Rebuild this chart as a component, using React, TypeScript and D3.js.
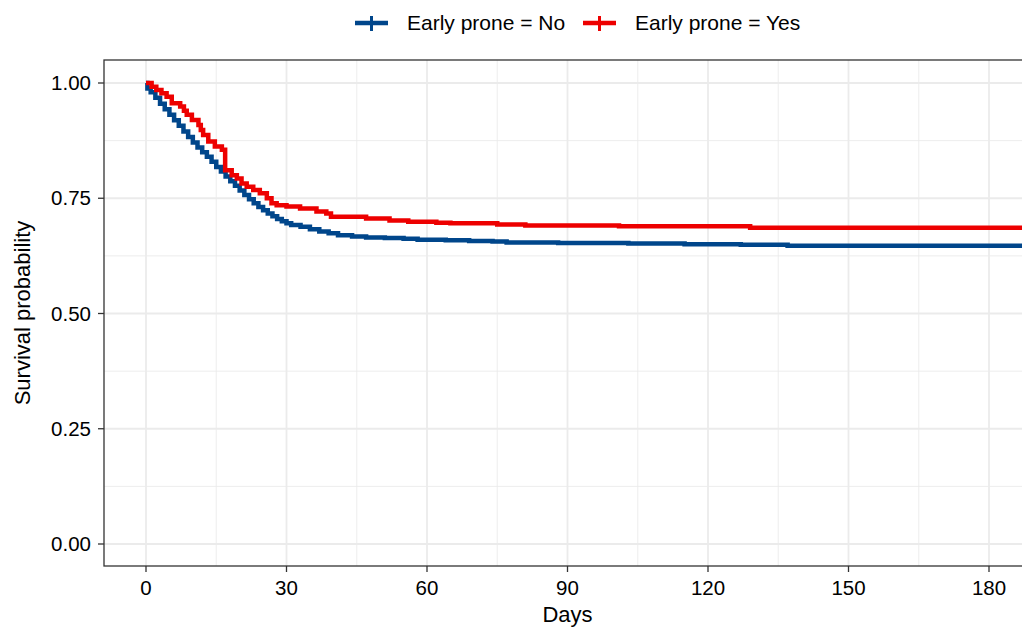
import React, { useEffect, useRef } from 'react';
import * as d3 from 'd3';

// Kaplan-Meier estimates (time in days, survival)
const noTimes = [0, 0.3, 1, 2, 3, 4, 5, 6, 7, 8, 9, 10, 11, 12, 13, 14, 15, 16, 17, 18, 19, 20,
  21, 22, 23, 24, 25, 26, 27, 28, 29, 30, 31, 33, 35, 37, 39, 41, 44, 47, 51, 55, 58, 64, 69, 74,
  77, 88, 103, 115, 127, 137, 190];
const noSurv = [1.0, 0.988, 0.98, 0.968, 0.955, 0.943, 0.931, 0.919, 0.907, 0.895, 0.883, 0.871,
  0.86, 0.85, 0.84, 0.829, 0.818, 0.808, 0.797, 0.787, 0.777, 0.767, 0.757, 0.748, 0.739, 0.731,
  0.724, 0.717, 0.711, 0.705, 0.7, 0.696, 0.692, 0.688, 0.683, 0.678, 0.674, 0.67, 0.667, 0.665,
  0.664, 0.662, 0.66, 0.659, 0.657, 0.656, 0.654, 0.653, 0.652, 0.65, 0.649, 0.647, 0.647];

const yesTimes = [0, 1.2, 2.2, 3.3, 4.4, 5.5, 7.3, 8.1, 8.7, 9.8, 11.2, 11.7, 12.2, 13.3, 14.7,
  16.2, 16.9, 18.3, 19.4, 20.4, 21.5, 22.9, 24.3, 25.8, 26.8, 27.9, 30, 32.9, 36.4, 38.5, 39.5,
  47, 52, 56, 62, 65, 75, 81, 101, 129, 190];
const yesSurv = [1.0, 0.992, 0.985, 0.978, 0.97, 0.956, 0.949, 0.94, 0.931, 0.92, 0.909, 0.898,
  0.887, 0.873, 0.862, 0.855, 0.811, 0.8, 0.793, 0.782, 0.775, 0.768, 0.761, 0.75, 0.739, 0.735,
  0.732, 0.728, 0.721, 0.717, 0.71, 0.706, 0.702, 0.699, 0.697, 0.696, 0.693, 0.691, 0.689,
  0.686, 0.686];

const groups = ['Early prone = No', 'Early prone = Yes'];
const colors = ['#00468B', '#ED0000'];

const xTicks = [0, 30, 60, 90, 120, 150, 180];
const xMinor = [15, 45, 75, 105, 135, 165];
const yTicks = [0, 0.25, 0.5, 0.75, 1];
const yMinor = [0.125, 0.375, 0.625, 0.875];

const FONT = '"Liberation Sans", Arial, Helvetica, sans-serif';

export default function App() {
  const ref = useRef<SVGSVGElement>(null);

  useEffect(() => {
    const svg = d3.select(ref.current);
    svg.selectAll('*').remove();

    const left = 104, top = 60, right = 1031, bottom = 566;

    const x = d3.scaleLinear().domain([0, 180]).range([146, 989]);
    const y = d3.scaleLinear().domain([0, 1]).range([544, 83]);

    svg.append('defs').append('clipPath').attr('id', 'panel')
      .append('rect')
      .attr('x', left).attr('y', top)
      .attr('width', right - left).attr('height', bottom - top);

    const g = svg.append('g').attr('clip-path', 'url(#panel)');

    // grid
    g.selectAll('.xminor').data(xMinor).enter().append('line')
      .attr('x1', d => x(d)).attr('x2', d => x(d))
      .attr('y1', top).attr('y2', bottom)
      .attr('stroke', '#EBEBEB').attr('stroke-width', 0.9);
    g.selectAll('.yminor').data(yMinor).enter().append('line')
      .attr('x1', left).attr('x2', right)
      .attr('y1', d => y(d)).attr('y2', d => y(d))
      .attr('stroke', '#EBEBEB').attr('stroke-width', 0.9);
    g.selectAll('.xmajor').data(xTicks).enter().append('line')
      .attr('x1', d => x(d)).attr('x2', d => x(d))
      .attr('y1', top).attr('y2', bottom)
      .attr('stroke', '#EBEBEB').attr('stroke-width', 1.8);
    g.selectAll('.ymajor').data(yTicks).enter().append('line')
      .attr('x1', left).attr('x2', right)
      .attr('y1', d => y(d)).attr('y2', d => y(d))
      .attr('stroke', '#EBEBEB').attr('stroke-width', 1.8);

    // survival curves
    const line = d3.line<[number, number]>()
      .x(d => x(d[0]))
      .y(d => y(d[1]))
      .curve(d3.curveStepAfter);

    const series: [number, number][][] = [
      noTimes.map((t, i) => [t, noSurv[i]]),
      yesTimes.map((t, i) => [t, yesSurv[i]]),
    ];

    series.forEach((s, i) => {
      g.append('path')
        .attr('d', line(s))
        .attr('fill', 'none')
        .attr('stroke', colors[i])
        .attr('stroke-width', 4.5);
    });

    // panel border
    svg.append('rect')
      .attr('x', left).attr('y', top)
      .attr('width', right - left).attr('height', bottom - top)
      .attr('fill', 'none')
      .attr('stroke', '#333333')
      .attr('stroke-width', 1.3);

    // axes ticks + labels
    svg.selectAll('.xtick').data(xTicks).enter().append('line')
      .attr('x1', d => x(d)).attr('x2', d => x(d))
      .attr('y1', bottom).attr('y2', bottom + 6)
      .attr('stroke', '#333333').attr('stroke-width', 1.3);
    svg.selectAll('.xlab').data(xTicks).enter().append('text')
      .attr('x', d => x(d)).attr('y', 595)
      .attr('text-anchor', 'middle')
      .attr('font-family', FONT).attr('font-size', 20.5).attr('fill', '#000')
      .text(d => d);

    svg.selectAll('.ytick').data(yTicks).enter().append('line')
      .attr('x1', left - 6).attr('x2', left)
      .attr('y1', d => y(d)).attr('y2', d => y(d))
      .attr('stroke', '#333333').attr('stroke-width', 1.3);
    svg.selectAll('.ylab').data(yTicks).enter().append('text')
      .attr('x', 91).attr('y', d => y(d) + 7)
      .attr('text-anchor', 'end')
      .attr('font-family', FONT).attr('font-size', 20.5).attr('fill', '#000')
      .text(d => d.toFixed(2));

    // axis titles
    svg.append('text')
      .attr('x', (left + right) / 2).attr('y', 622)
      .attr('text-anchor', 'middle')
      .attr('font-family', FONT).attr('font-size', 22).attr('fill', '#000')
      .text('Days');
    svg.append('text')
      .attr('transform', `translate(30, ${(top + bottom) / 2}) rotate(-90)`)
      .attr('text-anchor', 'middle')
      .attr('font-family', FONT).attr('font-size', 22).attr('fill', '#000')
      .text('Survival probability');

    // legend
    const keyX = [355, 583];
    groups.forEach((name, i) => {
      const lg = svg.append('g').attr('transform', `translate(${keyX[i]}, 23)`);
      lg.append('line')
        .attr('x1', 0).attr('x2', 33).attr('y1', 0).attr('y2', 0)
        .attr('stroke', colors[i]).attr('stroke-width', 4.5);
      lg.append('line')
        .attr('x1', 16.5).attr('x2', 16.5).attr('y1', -7).attr('y2', 8)
        .attr('stroke', colors[i]).attr('stroke-width', 3);
      lg.append('text')
        .attr('x', 52).attr('y', 7)
        .attr('font-family', FONT).attr('font-size', 21).attr('fill', '#000')
        .text(name);
    });
  }, []);

  return (
    <svg ref={ref} width={1022} height={629}
      style={{ position: 'absolute', left: 0, top: 0, background: '#fff' }} />
  );
}
